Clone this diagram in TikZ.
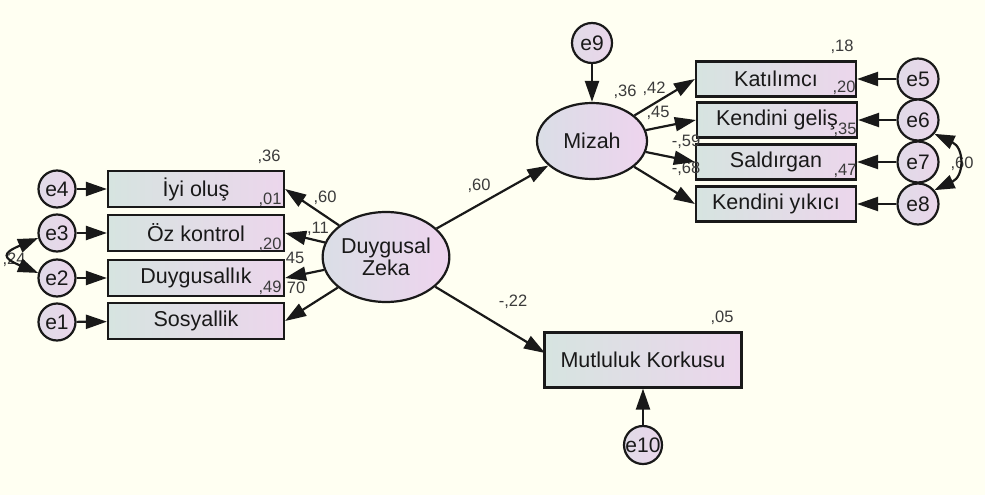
\documentclass[tikz,border=0pt]{standalone}
\usepackage{fontspec}
\setmainfont{Liberation Sans}
\usetikzlibrary{arrows.meta,shapes.geometric}
\definecolor{bg}{RGB}{255,255,242}
\definecolor{boxL}{RGB}{214,228,224}
\definecolor{boxR}{RGB}{236,214,236}
\definecolor{ellL}{RGB}{218,222,230}
\definecolor{ellR}{RGB}{238,212,238}
\definecolor{errc}{RGB}{234,214,234}
\definecolor{ink}{RGB}{25,25,25}
\begin{document}
\begin{tikzpicture}[x=1pt,y=-1pt,
  obs/.style={draw=ink,line width=2.2pt,rectangle,left color=boxL,right color=boxR,
    font=\fontsize{21.5}{25}\selectfont,text=ink,inner sep=0pt},
  lat/.style={draw=ink,line width=2.2pt,ellipse,left color=ellL,right color=ellR,
    font=\fontsize{21.5}{21.5}\selectfont,text=ink,inner sep=0pt,align=center},
  err/.style={draw=ink,line width=2.2pt,circle,left color=ellL!60!errc,right color=errc,inner sep=0pt,
    font=\fontsize{21}{24}\selectfont,text=ink},
  pth/.style={draw=ink,line width=2.2pt,-{Triangle[length=21pt,width=14pt]}},
  cov/.style={draw=ink,line width=2.2pt,{Triangle[length=20pt,width=14pt]}-{Triangle[length=20pt,width=14pt]}},
  num/.style={font=\fontsize{16.5}{19}\selectfont,text=ink!85,inner sep=0pt}]
\fill[bg] (0,0) rectangle (985,495);
\useasboundingbox (0,0) rectangle (985,495);

% left observed
\node[obs,minimum width=176pt,minimum height=36pt] (iyi) at (196,189) {İyi oluş};
\node[obs,minimum width=176pt,minimum height=36pt] (oz) at (196,233) {Öz kontrol};
\node[obs,minimum width=176pt,minimum height=36pt] (duy) at (196,278) {Duygusallık};
\node[obs,minimum width=176pt,minimum height=36pt] (sos) at (196,321) {Sosyallik};
\node[err,minimum size=37pt] (e4) at (57,189) {e4};
\node[err,minimum size=37pt] (e3) at (57,233) {e3};
\node[err,minimum size=37pt] (e2) at (57,278) {e2};
\node[err,minimum size=37pt] (e1) at (57,322) {e1};

% latent
\node[lat,minimum width=124pt,minimum height=90pt] (dz) at (386,257) {Duygusal\\Zeka};
\node[lat,minimum width=110pt,minimum height=76pt] (miz) at (592,141) {Mizah};
\node[err,minimum size=40pt] (e9) at (592,43) {e9};

% right observed
\node[obs,minimum width=160pt,minimum height=35pt] (kat) at (776,79) {Katılımcı};
\node[obs,minimum width=160pt,minimum height=35pt] (kg) at (777,120) {Kendini geliş};
\node[obs,minimum width=160pt,minimum height=35pt] (sal) at (776,162) {Saldırgan};
\node[obs,minimum width=160pt,minimum height=35pt] (ky) at (776,204) {Kendini yıkıcı};
\node[err,minimum size=41pt] (e5) at (918,79) {e5};
\node[err,minimum size=41pt] (e6) at (918,120) {e6};
\node[err,minimum size=41pt] (e7) at (918,162) {e7};
\node[err,minimum size=41pt] (e8) at (918,204) {e8};

\node[obs,minimum width=197pt,minimum height=55pt] (mk) at (643,360) {Mutluluk Korkusu};
\node[err,minimum size=38pt] (e10) at (643,445) {e10};

% labels
\node[num] at (269,157) {,36};
\node[num] at (270,200) {,01};
\node[num] at (270,245) {,20};
\node[num] at (270,288) {,49};
\node[num] at (325,198) {,60};
\node[num] at (318,229) {,11};
\node[num] at (295,258) {45};
\node[num] at (296,288) {70};
\node[num] at (14,260) {,24};
\node[num] at (479,186) {,60};
\node[num] at (513,302) {-,22};
\node[num] at (722,318) {,05};
\node[num] at (625,92) {,36};
\node[num] at (654,89) {,42};
\node[num] at (658,113) {,45};
\node[num] at (686,142) {-,59};
\node[num] at (686,169) {-,68};
\node[num] at (842,47) {,18};
\node[num] at (844,88) {,20};
\node[num] at (845,130) {,35};
\node[num] at (845,171) {,47};
\node[num] at (962,164) {,60};

% paths
\coordinate (mkin) at (545,353);
\draw[pth] (dz) -- (iyi.east);
\draw[pth] (dz) -- (oz.east);
\draw[pth] (dz) -- (duy.east);
\draw[pth] (dz) -- (sos.east);
\draw[pth] (dz) -- (miz);
\draw[pth] (dz) -- (mkin);
\draw[pth] (e9) -- (miz);
\draw[pth] (miz) -- (kat.west);
\draw[pth] (miz) -- (kg.west);
\draw[pth] (miz) -- (sal.west);
\draw[pth] (miz) -- (ky.west);
\draw[pth] (e4) -- (iyi);
\draw[pth] (e3) -- (oz);
\draw[pth] (e2) -- (duy);
\draw[pth] (e1) -- (sos);
\draw[pth] (e5) -- (kat);
\draw[pth] (e6) -- (kg);
\draw[pth] (e7) -- (sal);
\draw[pth] (e8) -- (ky);
\draw[pth] (e10) -- (mk);
\draw[cov] (e3.195) .. controls +(-36,15) and +(-36,-15) .. (e2.165);
\draw[cov] (e6.320) .. controls +(30,14) and +(30,-14) .. (e8.40);
\end{tikzpicture}
\end{document}
